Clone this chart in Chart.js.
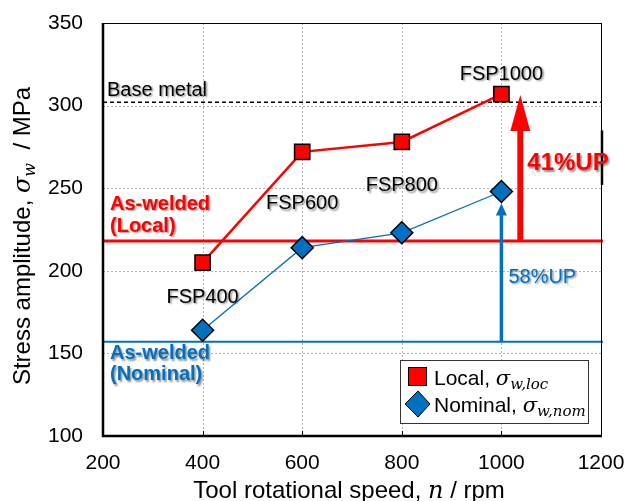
<!DOCTYPE html>
<html>
<head>
<meta charset="utf-8">
<script src="https://cdn.jsdelivr.net/npm/chart.js@4.4.1/dist/chart.umd.min.js"></script>
<style>
  html, body { margin: 0; padding: 0; background: #fff; }
  #wrap { width: 627px; height: 501px; }
</style>
</head>
<body>
<div id="wrap"><canvas id="fatigueChart"></canvas></div>
<script>
// tool rotational speed (rpm) and fatigue strength (MPa)
const speeds = [400, 600, 800, 1000];
const localAmp = [205, 272, 278, 307];
const nominalAmp = [164, 214, 223, 248];
const pointLabels = ["FSP400", "FSP600", "FSP800", "FSP1000"];

const baseMetal = 302;
const asWeldedLocal = 218;
const asWeldedNominal = 157;

const xTicks = [200, 400, 600, 800, 1000, 1200];
const yTicks = [100, 150, 200, 250, 300, 350];

const RED = "#ff0000";
const BLUE = "#0070c0";
const SANS = "'Liberation Sans', Arial, sans-serif";
const SERIF = "'DejaVu Serif', 'Liberation Serif', serif";

function toPoints(ys) {
  return speeds.map((x, i) => ({ x: x, y: ys[i] }));
}

function shadowOn(c) {
  c.shadowColor = "rgba(0,0,0,0.45)";
  c.shadowOffsetX = 1.5;
  c.shadowOffsetY = 1.5;
  c.shadowBlur = 2;
}

function arrow(c, x, y0, y1, w, headW, headL, color) {
  c.save();
  c.strokeStyle = color;
  c.fillStyle = color;
  c.lineWidth = w;
  c.beginPath();
  c.moveTo(x, y0);
  c.lineTo(x, y1 + headL - 1);
  c.stroke();
  c.beginPath();
  c.moveTo(x, y1);
  c.lineTo(x - headW / 2, y1 + headL);
  c.lineTo(x + headW / 2, y1 + headL);
  c.closePath();
  c.fill();
  c.restore();
}

// text with italic math symbol + subscript
function mathText(c, parts, x, y) {
  let cx = x;
  parts.forEach(p => {
    c.font = p.font;
    c.fillText(p.t, cx, y + (p.dy || 0));
    cx += c.measureText(p.t).width;
  });
}

const decorPlugin = {
  id: "decor",
  beforeDatasetsDraw(chart) {
    const c = chart.ctx;
    const xs = chart.scales.x, ys = chart.scales.y;
    const a = chart.chartArea;
    c.save();
    // dotted grid
    c.strokeStyle = "#b4b4b4";
    c.lineWidth = 1;
    c.setLineDash([2, 2]);
    xTicks.forEach(v => {
      const px = Math.round(xs.getPixelForValue(v)) + 0.5;
      c.beginPath(); c.moveTo(px, a.top); c.lineTo(px, a.bottom); c.stroke();
    });
    yTicks.forEach(v => {
      const py = Math.round(ys.getPixelForValue(v)) + 0.5;
      c.beginPath(); c.moveTo(a.left, py); c.lineTo(a.right, py); c.stroke();
    });
    c.setLineDash([]);

    // base metal (dashed)
    let py = ys.getPixelForValue(baseMetal);
    c.strokeStyle = "#000";
    c.lineWidth = 1.5;
    c.setLineDash([4, 3]);
    c.beginPath(); c.moveTo(a.left, py); c.lineTo(a.right, py); c.stroke();
    c.setLineDash([]);

    // as-welded lines
    py = ys.getPixelForValue(asWeldedLocal);
    c.strokeStyle = RED; c.lineWidth = 3;
    c.beginPath(); c.moveTo(a.left, py); c.lineTo(a.right + 2, py); c.stroke();
    py = ys.getPixelForValue(asWeldedNominal);
    c.strokeStyle = BLUE; c.lineWidth = 2;
    c.beginPath(); c.moveTo(a.left, py); c.lineTo(a.right + 2, py); c.stroke();

    // improvement arrows
    arrow(c, xs.getPixelForValue(1038), ys.getPixelForValue(asWeldedLocal),
      ys.getPixelForValue(localAmp[3]) + 1, 6, 20, 36, RED);
    arrow(c, xs.getPixelForValue(speeds[3]), ys.getPixelForValue(asWeldedNominal),
      ys.getPixelForValue(nominalAmp[3]) + 12, 3.5, 11, 12, BLUE);

    // frame
    c.strokeStyle = "#000";
    c.lineWidth = 1;
    c.strokeRect(a.left + 0.5, a.top + 0.5, a.right - a.left, a.bottom - a.top);
    c.lineWidth = 2.5;
    c.beginPath();
    c.moveTo(a.left, a.top); c.lineTo(a.left, a.bottom); c.lineTo(a.right + 1, a.bottom);
    c.stroke();
    // small tick marks on x axis
    c.lineWidth = 1;
    xTicks.forEach(v => {
      const px = Math.round(xs.getPixelForValue(v)) + 0.5;
      c.beginPath(); c.moveTo(px, a.bottom); c.lineTo(px, a.bottom - 5); c.stroke();
    });
    // stray dark segment at right border
    c.lineWidth = 2.5;
    c.beginPath();
    c.moveTo(a.right + 1, ys.getPixelForValue(285));
    c.lineTo(a.right + 1, ys.getPixelForValue(252));
    c.stroke();

    // tick labels
    c.fillStyle = "#000";
    c.font = "21px " + SANS;
    c.textBaseline = "middle";
    c.textAlign = "right";
    yTicks.forEach(v => c.fillText(String(v), a.left - 20, ys.getPixelForValue(v)));
    c.textAlign = "center";
    xTicks.forEach(v => c.fillText(String(v), xs.getPixelForValue(v), a.bottom + 27));
    c.restore();
  },
  afterDatasetsDraw(chart) {
    const c = chart.ctx;
    const xs = chart.scales.x, ys = chart.scales.y;
    const a = chart.chartArea;
    c.save();
    c.textBaseline = "middle";

    // plain labels
    shadowOn(c);
    c.fillStyle = "#000";
    c.font = "20px " + SANS;
    c.textAlign = "left";
    c.fillText("Base metal", a.left + 4, ys.getPixelForValue(baseMetal) - 12);

    c.textAlign = "center";
    const offs = [[0, -33], [0, -44], [0, -47], [0, -20]];
    pointLabels.forEach((t, i) => {
      const ref = i === 3 ? localAmp[i] : nominalAmp[i];
      c.fillText(t, xs.getPixelForValue(speeds[i]) + offs[i][0],
        ys.getPixelForValue(ref) + offs[i][1]);
    });

    // as-welded labels
    c.textAlign = "left";
    c.font = "bold 20px " + SANS;
    c.fillStyle = RED;
    let py = ys.getPixelForValue(asWeldedLocal);
    c.fillText("As-welded", a.left + 7, py - 37);
    c.fillText("(Local)", a.left + 7, py - 15);
    c.fillStyle = BLUE;
    py = ys.getPixelForValue(asWeldedNominal);
    c.fillText("As-welded", a.left + 7, py + 12);
    c.fillText("(Nominal)", a.left + 7, py + 33);

    c.font = "bold 24px " + SANS;
    c.fillStyle = RED;
    c.fillText("41%UP", xs.getPixelForValue(1038) + 7, ys.getPixelForValue(265));
    c.font = "20px " + SANS;
    c.fillStyle = BLUE;
    c.fillText("58%UP", xs.getPixelForValue(speeds[3]) + 7, ys.getPixelForValue(196));
    c.restore();

    // legend
    c.save();
    const lx = 400, ly = 360, lw = 188, lh = 63;
    c.fillStyle = "#fff";
    c.fillRect(lx, ly, lw, lh);
    c.strokeStyle = "#333";
    c.lineWidth = 1;
    c.strokeRect(lx + 0.5, ly + 0.5, lw, lh);
    c.fillStyle = RED;
    c.strokeStyle = "#000";
    c.fillRect(lx + 8, ly + 7, 19, 19);
    c.strokeRect(lx + 8.5, ly + 7.5, 18, 18);
    c.fillStyle = BLUE;
    c.beginPath();
    c.moveTo(lx + 18, ly + 31);
    c.lineTo(lx + 30, ly + 44);
    c.lineTo(lx + 18, ly + 57);
    c.lineTo(lx + 5, ly + 44);
    c.closePath();
    c.fill(); c.stroke();
    c.fillStyle = "#000";
    c.textBaseline = "alphabetic";
    mathText(c, [
      { t: "Local, ", font: "21px " + SANS },
      { t: "σ", font: "italic 21px " + SERIF },
      { t: "w,loc", font: "italic 15px " + SERIF, dy: 4 }
    ], lx + 34, ly + 25);
    mathText(c, [
      { t: "Nominal, ", font: "21px " + SANS },
      { t: "σ", font: "italic 21px " + SERIF },
      { t: "w,nom", font: "italic 15px " + SERIF, dy: 4 }
    ], lx + 34, ly + 52);
    c.restore();

    // axis titles
    c.save();
    c.fillStyle = "#000";
    c.textBaseline = "alphabetic";
    const xt = [
      { t: "Tool rotational speed, ", font: "24px " + SANS },
      { t: "n", font: "italic 24px " + SERIF },
      { t: " / rpm", font: "24px " + SANS }
    ];
    let w = 0;
    xt.forEach(p => { c.font = p.font; w += c.measureText(p.t).width; });
    mathText(c, xt, 349 - w / 2, 498);

    c.translate(30, 236);
    c.rotate(-Math.PI / 2);
    const yt = [
      { t: "Stress amplitude, ", font: "24px " + SANS },
      { t: "σ", font: "italic 24px " + SERIF },
      { t: "w", font: "italic 16px " + SERIF, dy: 5 },
      { t: "  / MPa", font: "24px " + SANS }
    ];
    w = 0;
    yt.forEach(p => { c.font = p.font; w += c.measureText(p.t).width; });
    mathText(c, yt, -w / 2, 0);
    c.restore();
  }
};

new Chart(document.getElementById("fatigueChart"), {
  type: "line",
  data: {
    datasets: [
      {
        label: "Local",
        data: toPoints(localAmp),
        borderColor: RED,
        borderWidth: 2.5,
        pointStyle: "rect",
        pointRadius: 10.8,
        pointBackgroundColor: RED,
        pointBorderColor: "#000",
        pointBorderWidth: 1.5,
        tension: 0
      },
      {
        label: "Nominal",
        data: toPoints(nominalAmp),
        borderColor: BLUE,
        borderWidth: 1.3,
        pointStyle: "rectRot",
        pointRadius: 11,
        pointBackgroundColor: BLUE,
        pointBorderColor: "#000",
        pointBorderWidth: 1.5,
        tension: 0
      }
    ]
  },
  options: {
    responsive: true,
    maintainAspectRatio: false,
    animation: false,
    layout: { padding: { left: 0, top: 23, right: 26, bottom: 0 } },
    plugins: {
      legend: { display: false },
      tooltip: { enabled: false }
    },
    scales: {
      x: {
        type: "linear",
        min: 200,
        max: 1200,
        afterFit: s => { s.height = 65; },
        grid: { display: false, drawTicks: false },
        border: { display: false },
        ticks: { display: false }
      },
      y: {
        type: "linear",
        min: 100,
        max: 350,
        afterFit: s => { s.width = 103; },
        grid: { display: false, drawTicks: false },
        border: { display: false },
        ticks: { display: false }
      }
    }
  },
  plugins: [decorPlugin]
});
</script>
</body>
</html>
